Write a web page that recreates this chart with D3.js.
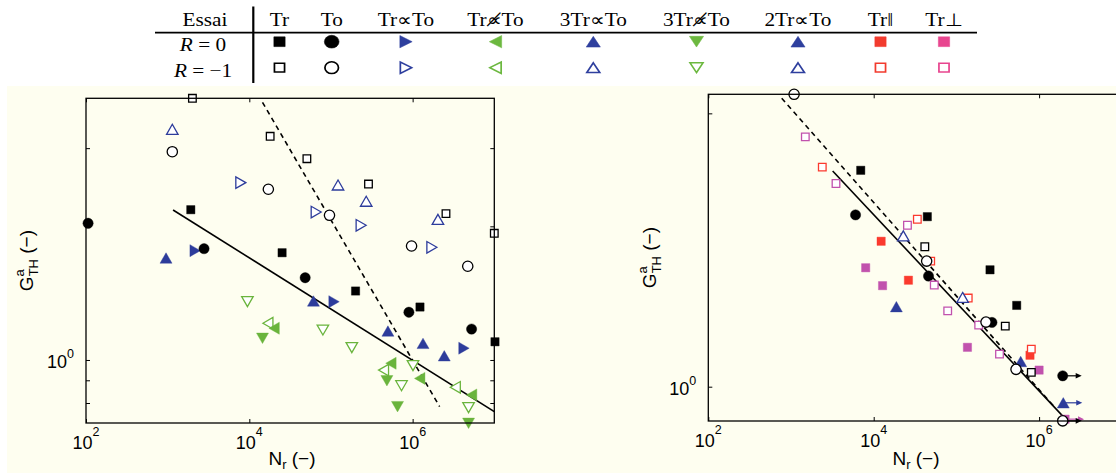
<!DOCTYPE html>
<html><head><meta charset="utf-8">
<script src="https://cdn.jsdelivr.net/npm/d3@7"></script>
<style>body{margin:0;background:#fff}svg{display:block}</style>
</head><body><svg id="c" width="1116" height="473"></svg>
<script>
// ---------------- data ----------------
const legendColumns = ["Tr","To","Tr\u221DTo","Tr\u221D\u0338To","3Tr\u221DTo","3Tr\u221D\u0338To","2Tr\u221DTo","Tr\u2016","Tr\u22A5"];
const legendHeader = "Essai";
const legendRowVars = ["R","R"];
const legendRowValues = [" = 0"," = \u22121"];
const xTickValues = [1e2, 1e4, 1e6];
const xTickExponents = ["2","4","6"];
const leftYTicks = [0.8, 0.9, 1, 2, 3];
const rightYTicks = [1, 2];
const yLabelTicks = [1];
const yLabelExponents = ["0"];
const xTitle = ["N","r"," (\u2212)"];
const yTitle = ["G","a","TH"," (\u2212)"];

// left panel (R = 0 filled, R = -1 open)
const leftTrR0 = [[1920,2.18],[25200,1.744],[2.0e5,1.430],[1.23e6,1.316],[1.02e7,1.099]];
const leftToR0 = [[106,2.032],[2790,1.781],[48300,1.532],[9.0e5,1.281],[5.27e6,1.174]];
const leftTrPropR0 = [[2170,1.763],[1.09e5,1.353],[4.25e6,1.063]];
const left3TrPropR0 = [[955,1.697],[61000,1.358],[4.98e5,1.162],[1.34e6,1.090],[2.44e6,1.022]];
const leftTrNPropR0 = [[20100,1.179],[5.42e5,0.983],[1.22e6,0.909],[5.27e6,0.834]];
const left3TrNPropR0 = [[14500,1.119],[4.84e5,0.898],[6.53e5,0.785],[4.84e6,0.720]];
const leftTrR1 = [[2010,3.885],[18000,3.19],[50700,2.84],[2.88e5,2.49],[2.56e6,2.136],[1.0e7,1.929]];
const leftToR1 = [[1140,2.945],[17100,2.424],[95900,2.118],[9.7e5,1.806],[4.73e6,1.626]];
const leftTrPropR1 = [[7870,2.508],[65900,2.154],[2.34e5,2.011],[1.72e6,1.794]];
const left3TrPropR1 = [[1140,3.308],[1.22e5,2.478],[2.70e5,2.278],[2.04e6,2.074]];
const leftTrNPropR1 = [[16900,1.210],[4.40e5,0.949],[3.33e6,0.868]];
const left3TrNPropR1 = [[9480,1.353],[79600,1.168],[1.80e5,1.066],[7.31e5,0.875],[1.01e6,0.971],[4.84e6,0.781]];
const leftFitSolid = [[1165,2.177],[1.0e7,0.765]];
const leftFitDashed = [[14500,3.805],[2.14e6,0.785]];

// right panel
const rightTrR0 = [[6970,1.731],[44500,1.539],[2.55e5,1.345],[5.36e5,1.229]];
const rightToR0 = [[6030,1.546],[46000,1.324],[2.69e5,1.177],[1.93e6,1.028]];
const right2TrPropR0 = [[18800,1.225],[5.99e5,1.066],[1.96e6,0.960]];
const rightTrParR0 = [[12300,1.446],[26300,1.310],[7.76e5,1.083]];
const rightTrPerpR0 = [[8000,1.352],[12800,1.292],[1.36e5,1.105],[1.0e6,1.043],[2.06e6,0.921]];
const rightTrR1 = [[41500,1.426],[3.90e5,1.166],[8.05e5,1.037]];
const rightToR1 = [[1090,2.099],[43700,1.375],[2.28e5,1.178],[5.26e5,1.045],[1.93e6,0.917]];
const right2TrPropR1 = [[22800,1.466],[1.19e5,1.254]];
const rightTrParR1 = [[2390,1.745],[33700,1.529],[48900,1.375],[1.39e5,1.252],[8.05e5,1.100]];
const rightTrPerpR1 = [[1490,1.884],[3500,1.674],[25600,1.506],[54000,1.294],[78500,1.212],[1.86e5,1.169],[3.32e5,1.086]];
const rightFitSolid = [[3190,1.728],[2.19e6,0.917]];
const rightFitDashed = [[772,2.078],[1.56e6,0.948]];
// run-outs (points not broken) : series name -> indices
const rightRunouts = {toR0:[3], tr2R0:[2], toR1:[4], perpR0:[4]};

// ---------------- style ----------------
const C = {black:"#000", blue:"#2d3c9b", green:"#6ab43c", red:"#fb3a2e", mag:"#c152ad"};
const LC = {black:"#000", blue:"#2e3f9e", green:"#6cb83f", red:"#f23b2e", mag:"#e8458f"};
const CREAM = "#fefef0";
const sans = "'Liberation Sans', Arial, sans-serif";
const serif = "'Liberation Serif', 'Times New Roman', serif";

function markerPath(shape, s){
  const h = s*0.87, r = s/2;
  switch(shape){
    case "square": return `M${-r},${-r}h${s}v${s}h${-s}Z`;
    case "circle": return `M${r},0A${r},${r} 0 1,1 ${-r},0A${r},${r} 0 1,1 ${r},0Z`;
    case "up": return `M0,${-h/2}L${r},${h/2}L${-r},${h/2}Z`;
    case "down": return `M0,${h/2}L${r},${-h/2}L${-r},${-h/2}Z`;
    case "right": return `M${h/2},0L${-h/2},${-r}L${-h/2},${r}Z`;
    case "left": return `M${-h/2},0L${h/2},${-r}L${h/2},${r}Z`;
  }
}
const markerSize = {square:8.3, circle:10.3, up:12, down:12, right:12, left:12};
const openSize = {square:7.6, circle:10.3, up:11.5, down:11.5, right:11.5, left:11.5};

const svg = d3.select("#c");
svg.append("rect").attr("x",7).attr("y",86).attr("width",1109).attr("height",387).attr("fill",CREAM);

// ---------------- legend table ----------------
const legendX = [279.5, 331.7, 406, 495.5, 593.3, 696.5, 798, 880.5, 944];
const legendMarkers = [
  {shape:"square", color:LC.black}, {shape:"circle", color:LC.black},
  {shape:"right", color:LC.blue}, {shape:"left", color:LC.green},
  {shape:"up", color:LC.blue}, {shape:"down", color:LC.green},
  {shape:"up", color:LC.blue}, {shape:"square", color:LC.red}, {shape:"square", color:LC.mag}
];
const legendMarkerSize = {square:9.8, circle:12.8, up:12.3, down:12.3, right:12.3, left:12.3};
const lg = svg.append("g").attr("font-family", serif).attr("font-size", 18.5).attr("fill","#000");
function stretchedText(x, y){
  return lg.append("text").attr("transform", `translate(${x},${y}) scale(1.15,1)`).attr("text-anchor","middle");
}
stretchedText(205, 26).text(legendHeader);
legendColumns.forEach((t,i)=> stretchedText(legendX[i], 26).text(t));
legendRowVars.forEach((v,i)=>{
  const t = stretchedText(203, i===0 ? 50.5 : 77);
  t.append("tspan").attr("font-style","italic").text(v);
  t.append("tspan").text(legendRowValues[i]);
});
lg.append("line").attr("x1",155).attr("x2",977).attr("y1",32.7).attr("y2",32.7).attr("stroke","#000").attr("stroke-width",1.8);
lg.append("line").attr("x1",253.3).attr("x2",253.3).attr("y1",6.5).attr("y2",83).attr("stroke","#000").attr("stroke-width",2.2);
const legendRowY = [41.7, 67.7];
legendRowY.forEach((yy,ri)=>{
  legendMarkers.forEach((m,i)=>{
    const open = ri===1;
    lg.append("path")
      .attr("transform", `translate(${legendX[i]},${yy}) scale(1.15,1)`)
      .attr("d", markerPath(m.shape, open ? legendMarkerSize[m.shape]-1 : legendMarkerSize[m.shape]))
      .attr("fill", open ? "none" : m.color)
      .attr("stroke", m.color).attr("stroke-width", open ? 1.5 : 0.5);
  });
});

// ---------------- panels ----------------
function drawPanel(p){
  const x = d3.scaleLog().domain([1e2,1e7]).range(p.xRange);
  const y = d3.scaleLog().domain(p.yDomain).range(p.yRange);
  const g = svg.append("g");
  const [x0,x1] = p.xRange, [yb,yt] = p.yRange;
  g.append("rect").attr("x",x0).attr("y",yt).attr("width",x1-x0).attr("height",yb-yt).attr("fill",CREAM);

  // fit lines
  const line = d3.line().x(d=>x(d[0])).y(d=>y(d[1]));
  g.append("path").attr("d", line(p.fitSolid)).attr("fill","none").attr("stroke","#000").attr("stroke-width",1.6);
  g.append("path").attr("d", line(p.fitDashed)).attr("fill","none").attr("stroke","#000").attr("stroke-width",1.6).attr("stroke-dasharray","5,4");

  // markers
  p.series.forEach(s=>{
    const sz = s.open ? openSize[s.shape] : markerSize[s.shape];
    s.data.forEach((d,i)=>{
      const px = x(d[0]), py = y(d[1]);
      if (s.runout && s.runout.includes(i)){
        g.append("line").attr("x1",px).attr("x2",px+14).attr("y1",py).attr("y2",py).attr("stroke",s.color).attr("stroke-width",1.2);
        g.append("path").attr("d",`M${px+19},${py}L${px+13},${py-2.8}L${px+13},${py+2.8}Z`).attr("fill",s.color);
      }
    });
    g.selectAll(null).data(s.data).join("path")
      .attr("transform", d=>`translate(${x(d[0])},${y(d[1])})`)
      .attr("d", markerPath(s.shape, sz))
      .attr("fill", s.open ? "#fff" : s.color)
      .attr("stroke", s.color).attr("stroke-width", s.open ? 1.3 : 0.4);
  });

  // frame
  g.append("rect").attr("x",x0).attr("y",yt).attr("width",x1-x0).attr("height",yb-yt)
    .attr("fill","none").attr("stroke","#000").attr("stroke-width",1.3);

  // axes (inward ticks)
  const styleAxis = a => { a.select(".domain").remove(); a.selectAll(".tick line").attr("stroke","#000").attr("stroke-width",1); a.selectAll(".tick text").remove(); };
  g.append("g").attr("transform",`translate(0,${yb})`).call(d3.axisBottom(x).tickValues(xTickValues).tickSizeInner(-4).tickSizeOuter(0)).call(styleAxis);
  g.append("g").attr("transform",`translate(0,${yt})`).call(d3.axisTop(x).tickValues(xTickValues).tickSizeInner(-4).tickSizeOuter(0)).call(styleAxis);
  g.append("g").attr("transform",`translate(${x0},0)`).call(d3.axisLeft(y).tickValues(p.yTicks).tickSizeInner(-4).tickSizeOuter(0)).call(styleAxis);
  g.append("g").attr("transform",`translate(${x1},0)`).call(d3.axisRight(y).tickValues(p.yTicks).tickSizeInner(-4).tickSizeOuter(0)).call(styleAxis);

  // tick labels
  const tl = g.append("g").attr("font-family", sans).attr("font-size", 18).attr("fill","#000");
  xTickValues.forEach((v,i)=>{
    const t = tl.append("text").attr("x", x(v)).attr("y", yb+25.5).attr("text-anchor","middle");
    t.append("tspan").text("10");
    t.append("tspan").attr("font-size",12.5).attr("dy",-13).text(xTickExponents[i]);
  });
  yLabelTicks.forEach((v,i)=>{
    const t = tl.append("text").attr("x", x0-12).attr("y", y(v)+8).attr("text-anchor","end");
    t.append("tspan").text("10");
    t.append("tspan").attr("font-size",12.5).attr("dy",-10).text(yLabelExponents[i]);
  });
  // axis titles
  const xt = tl.append("text").attr("x", p.xTitleX).attr("y", 465).attr("text-anchor","middle").attr("font-size",19);
  xt.append("tspan").text(xTitle[0]);
  xt.append("tspan").attr("font-size",13).attr("dy",4).text(xTitle[1]);
  xt.append("tspan").attr("dy",-4).text(xTitle[2]);
  const yt2 = tl.append("text").attr("transform",`translate(${p.yTitleX},${(yb+yt)/2}) rotate(-90)`).attr("text-anchor","middle").attr("font-size",19);
  yt2.append("tspan").text(yTitle[0]);
  yt2.append("tspan").attr("font-size",13).attr("dy",-9).text(yTitle[1]);
  yt2.append("tspan").attr("font-size",13).attr("dx",-7).attr("dy",14).text(yTitle[2]);
  yt2.append("tspan").attr("dy",-5).text(yTitle[3]);
}

drawPanel({
  xRange:[86,494.3], yDomain:[0.7212,3.885], yRange:[423,98.3], yTicks:leftYTicks,
  xTitleX:292, yTitleX:33,
  fitSolid:leftFitSolid, fitDashed:leftFitDashed,
  series:[
    {data:leftTrR1, shape:"square", color:C.black, open:true},
    {data:leftToR1, shape:"circle", color:C.black, open:true},
    {data:leftTrPropR1, shape:"right", color:C.blue, open:true},
    {data:left3TrPropR1, shape:"up", color:C.blue, open:true},
    {data:leftTrNPropR1, shape:"left", color:C.green, open:true},
    {data:left3TrNPropR1, shape:"down", color:C.green, open:true},
    {data:leftTrPropR0, shape:"right", color:C.blue},
    {data:left3TrPropR0, shape:"up", color:C.blue},
    {data:leftTrNPropR0, shape:"left", color:C.green},
    {data:left3TrNPropR0, shape:"down", color:C.green},
    {data:leftToR0, shape:"circle", color:C.black},
    {data:leftTrR0, shape:"square", color:C.black}
  ]
});

drawPanel({
  xRange:[708.3,1121.8], yDomain:[0.9167,2.099], yRange:[421,94.3], yTicks:rightYTicks,
  xTitleX:916, yTitleX:656,
  fitSolid:rightFitSolid, fitDashed:rightFitDashed,
  series:[
    {data:rightTrPerpR0, shape:"square", color:C.mag, runout:rightRunouts.perpR0},
    {data:rightTrParR0, shape:"square", color:C.red},
    {data:rightTrR0, shape:"square", color:C.black},
    {data:right2TrPropR0, shape:"up", color:C.blue, runout:rightRunouts.tr2R0},
    {data:rightToR0, shape:"circle", color:C.black, runout:rightRunouts.toR0},
    {data:rightTrPerpR1, shape:"square", color:C.mag, open:true},
    {data:rightTrParR1, shape:"square", color:C.red, open:true},
    {data:rightTrR1, shape:"square", color:C.black, open:true},
    {data:right2TrPropR1, shape:"up", color:C.blue, open:true},
    {data:rightToR1, shape:"circle", color:C.black, open:true, runout:rightRunouts.toR1}
  ]
});
</script></body></html>
